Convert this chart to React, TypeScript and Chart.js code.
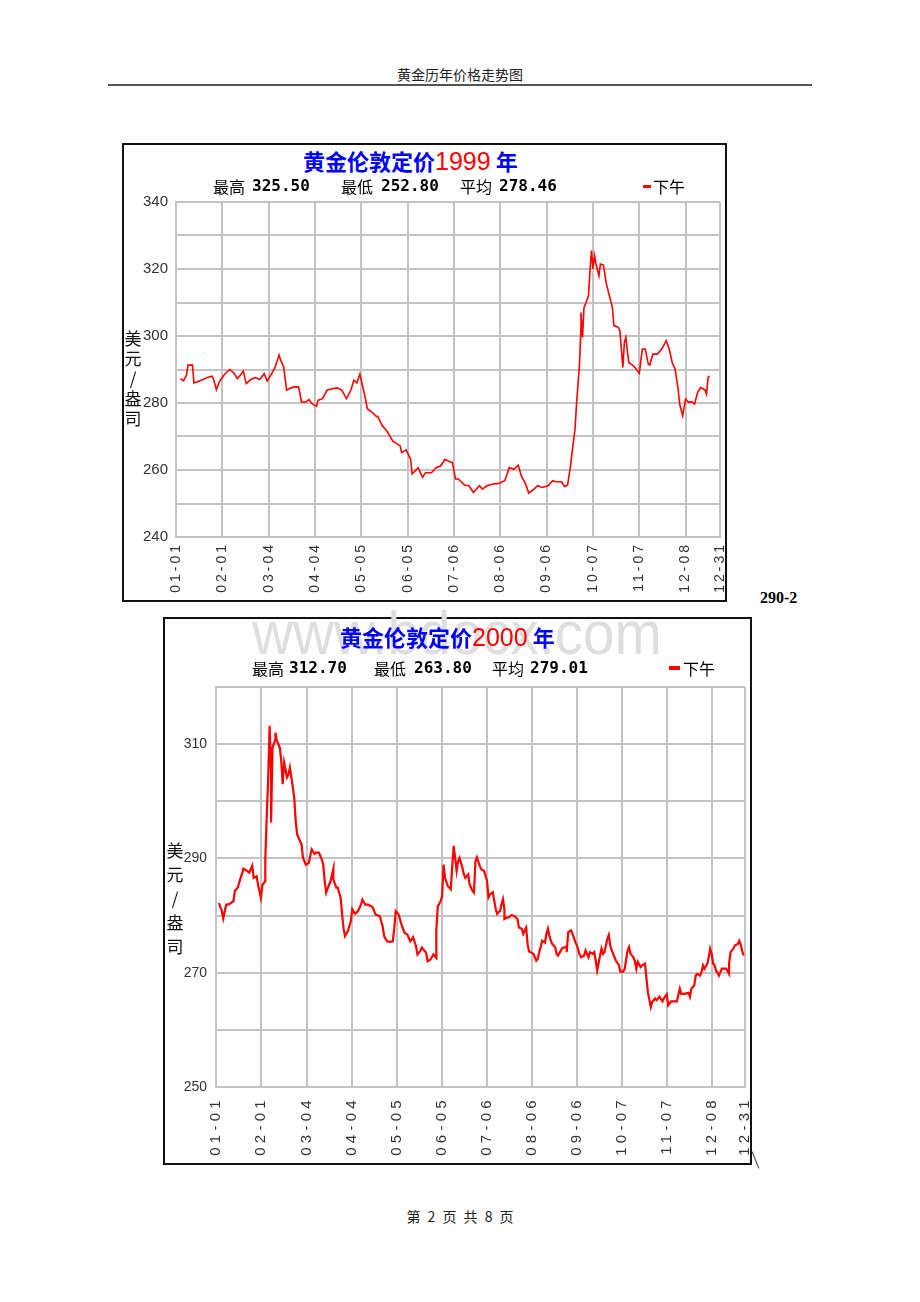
import React, { useEffect, useRef } from 'react';
import { Chart, registerables, LinearScale } from 'chart.js';

// ---------- data ----------
const TICK_LABELS = ['01-01', '02-01', '03-04', '04-04', '05-05', '06-05', '07-06', '08-06', '09-06', '10-07', '11-07', '12-08', '12-31'];
const TICK_DAYS_1999 = [0, 31, 62, 93, 124, 155, 186, 217, 248, 279, 310, 341, 364];
const TICK_DAYS_2000 = [0, 31, 63, 94, 125, 156, 187, 218, 249, 280, 311, 342, 365];

const STAT_LABELS = ['最高', '最低', '平均'];
const STATS_1999 = ['325.50', '252.80', '278.46'];
const STATS_2000 = ['312.70', '263.80', '279.01'];
const SERIES_NAME = '下午';
const Y_TITLE_CHARS = ['美', '元', '/', '盎', '司'];

const DAYS_1999 = [
  3, 5, 7, 8, 11, 12, 14, 18, 21, 24,
  25, 27, 29, 32, 33, 36, 39, 41, 43, 45,
  47, 50, 53, 56, 59, 61, 64, 66, 69, 70,
  72, 74, 76, 79, 82, 84, 87, 89, 91, 94,
  95, 98, 101, 105, 108, 111, 114, 117, 119, 121,
  123, 125, 127, 128, 131, 134, 135, 138, 141, 145,
  150, 151, 154, 157, 158, 162, 165, 167, 171, 174,
  177, 180, 183, 185, 187, 189, 193, 196, 199, 203,
  205, 208, 212, 216, 220, 223, 226, 229, 231, 234,
  236, 239, 242, 245, 249, 252, 254, 258, 260, 262,
  264, 265, 267, 268, 270, 271, 271, 272, 273, 274,
  276, 277, 278, 279, 280, 281, 283, 284, 286, 288,
  290, 292, 293, 296, 297, 299, 300, 301, 302, 303,
  306, 308, 310, 312, 314, 316, 317, 319, 322, 325,
  328, 330, 332, 334, 336, 337, 339, 341, 343, 345,
  347, 349, 351, 354, 355, 356, 357,
];
const GOLD_1999 = [
  287.3, 286.6, 288.3, 291.3, 291.3, 286.0, 286.3, 287.0, 287.6, 288.0,
  287.3, 284.0, 286.3, 288.3, 288.8, 290.0, 288.8, 287.3, 288.3, 289.5,
  285.8, 287.0, 287.6, 287.0, 288.8, 286.6, 288.8, 290.3, 294.3, 292.8,
  290.8, 283.8, 284.3, 284.8, 284.8, 280.3, 280.3, 281.0, 279.8, 279.0,
  280.8, 281.3, 283.8, 284.3, 284.5, 283.8, 281.3, 283.8, 286.8, 286.0,
  288.6, 284.8, 280.8, 278.3, 277.3, 276.0, 276.0, 273.2, 271.7, 268.7,
  267.2, 265.2, 266.0, 263.2, 258.8, 260.7, 257.8, 259.2, 259.2, 260.7,
  261.2, 263.2, 262.5, 262.2, 257.3, 257.3, 255.5, 255.3, 253.3, 255.3,
  254.3, 255.3, 255.8, 256.0, 256.8, 260.7, 260.2, 261.4, 258.3, 255.8,
  253.1, 254.1, 255.3, 254.8, 255.3, 256.8, 256.5, 256.5, 255.1, 255.5,
  261.2, 265.2, 272.2, 279.7, 291.6, 303.1, 307.0, 299.6, 308.5, 309.5,
  312.0, 319.5, 325.5, 320.0, 324.0, 321.5, 318.0, 321.5, 321.2, 315.5,
  312.0, 308.5, 303.1, 302.6, 301.6, 290.6, 298.0, 299.6, 295.6, 292.1,
  291.1, 290.1, 288.9, 296.1, 296.1, 291.6, 291.3, 294.6, 294.6, 296.1,
  298.6, 296.1, 292.1, 290.1, 284.1, 279.7, 276.2, 281.2, 280.2, 280.4,
  279.7, 283.1, 284.6, 283.9, 282.6, 287.6, 288.1,
];

const DAYS_2000 = [
  2, 4, 5, 7, 9, 12, 13, 15, 17, 19,
  21, 23, 25, 26, 28, 29, 31, 32, 34, 34,
  35, 36, 37, 38, 38, 39, 41, 41, 42, 44,
  45, 46, 47, 49, 50, 51, 52, 53, 54, 55,
  56, 58, 59, 60, 62, 64, 66, 68, 69, 71,
  73, 74, 75, 76, 78, 79, 81, 81, 83, 84,
  86, 87, 88, 89, 91, 93, 94, 96, 98, 100,
  101, 103, 105, 108, 110, 113, 115, 116, 118, 120,
  122, 123, 124, 126, 128, 130, 132, 134, 136, 138,
  139, 141, 142, 145, 146, 148, 150, 152, 152, 153,
  155, 156, 157, 158, 160, 161, 162, 163, 164, 165,
  166, 167, 168, 170, 171, 172, 174, 175, 177, 178,
  179, 180, 182, 183, 185, 186, 187, 188, 189, 191,
  192, 193, 194, 196, 197, 198, 199, 199, 201, 202,
  204, 206, 208, 209, 211, 212, 213, 214, 215, 216,
  217, 219, 220, 221, 222, 223, 224, 225, 227, 228,
  229, 230, 231, 232, 234, 235, 236, 238, 239, 242,
  242, 243, 245, 246, 248, 249, 251, 252, 254, 255,
  257, 258, 260, 261, 262, 263, 265, 266, 267, 268,
  270, 271, 272, 273, 274, 276, 278, 279, 281, 282,
  284, 285, 286, 288, 289, 290, 291, 293, 294, 296,
  297, 298, 300, 301, 303, 304, 306, 308, 309, 311,
  312, 314, 316, 318, 320, 321, 323, 326, 327, 328,
  330, 331, 332, 334, 335, 336, 337, 339, 340, 341,
  342, 343, 344, 345, 346, 347, 349, 350, 352, 354,
  354, 355, 357, 358, 360, 361, 362, 363, 364,
];
const GOLD_2000 = [
  282.2, 280.8, 279.5, 281.9, 282.0, 282.5, 284.3, 284.9, 286.6, 288.2,
  287.9, 287.5, 288.7, 286.6, 286.9, 285.4, 283.1, 285.4, 286.0, 289.8,
  297.4, 303.9, 313.2, 304.7, 296.3, 309.4, 310.9, 312.0, 310.6, 309.4,
  307.1, 303.0, 306.8, 304.2, 304.7, 305.9, 304.2, 302.4, 300.6, 296.5,
  294.2, 293.0, 292.5, 290.1, 288.9, 289.2, 291.6, 290.8, 291.0, 291.0,
  289.8, 288.9, 286.0, 284.0, 285.4, 286.0, 288.2, 286.3, 284.9, 284.9,
  283.1, 280.2, 277.8, 276.4, 277.3, 279.0, 281.1, 280.3, 280.8, 281.9,
  282.8, 281.9, 281.9, 281.5, 280.2, 279.9, 278.1, 276.4, 275.5, 275.4,
  275.5, 277.8, 280.8, 280.2, 278.4, 277.0, 276.7, 275.5, 276.2, 274.6,
  273.2, 273.8, 274.4, 273.5, 272.0, 272.3, 273.2, 272.6, 277.3, 281.6,
  282.5, 283.4, 288.9, 286.6, 285.1, 284.9, 284.6, 288.7, 292.2, 290.1,
  287.8, 289.5, 290.1, 288.4, 287.2, 286.6, 287.2, 285.4, 284.3, 284.0,
  289.5, 290.2, 288.7, 288.1, 287.8, 286.9, 286.1, 283.2, 283.7, 284.1,
  282.6, 281.1, 280.3, 280.8, 282.0, 282.9, 281.1, 279.4, 279.7, 279.7,
  280.1, 279.9, 279.4, 277.9, 277.7, 276.8, 277.4, 277.9, 275.0, 273.7,
  273.6, 273.3, 272.7, 272.1, 272.4, 273.6, 274.5, 275.6, 275.3, 276.8,
  277.7, 276.5, 275.6, 275.0, 274.5, 273.3, 273.0, 273.9, 274.3, 274.6,
  273.6, 277.1, 277.4, 276.8, 275.3, 274.8, 273.1, 272.7, 273.0, 273.9,
  272.7, 273.6, 273.3, 273.6, 272.1, 270.4, 273.0, 274.2, 273.3, 273.6,
  275.9, 276.6, 274.8, 273.9, 273.3, 272.1, 271.3, 270.2, 270.2, 270.7,
  273.9, 274.5, 273.3, 272.7, 272.1, 270.7, 271.9, 271.0, 271.3, 271.6,
  269.0, 266.6, 264.0, 264.9, 265.5, 265.2, 265.8, 265.0, 265.5, 266.2,
  264.3, 265.0, 265.0, 265.0, 267.2, 266.3, 266.3, 266.5, 265.8, 267.2,
  267.8, 269.5, 269.8, 269.5, 270.1, 271.3, 270.7, 271.6, 272.7, 274.2,
  273.3, 271.6, 271.3, 270.4, 270.0, 269.5, 270.7, 270.7, 270.7, 269.8,
  271.6, 273.6, 274.2, 274.8, 275.0, 275.6, 275.0, 273.9, 273.0,
];

// ---------- custom scale: linear axis whose labels get extra letter spacing ----------
class SpacedLinearScale extends LinearScale {
  static id = 'spacedLinear';
  static defaults = LinearScale.defaults;
  drawLabels(chartArea: any) {
    const ctx: any = (this as any).ctx;
    const sp = (this as any).options.labelSpacing || 0;
    ctx.save();
    if ('letterSpacing' in ctx) ctx.letterSpacing = sp + 'px';
    (LinearScale.prototype as any).drawLabels.call(this, chartArea);
    ctx.restore();
  }
}
Chart.register(...registerables, SpacedLinearScale);

const GRID = '#c3c3c3';
const TICK_COLOR = '#333333';

type ChartSpec = {
  days: number[];
  values: number[];
  tickDays: number[];
  xMax: number;
  yMin: number;
  yMax: number;
  width: number;
  height: number;
  padTop: number;
  padRight: number;
  yAxisWidth: number;
  xAxisHeight: number;
  xFont: number;
  xSpacing: number;
  xPad: number;
  yFont: number;
  yPad: number;
  lineWidth: number;
};

function makeConfig(s: ChartSpec): any {
  return {
    type: 'line',
    data: {
      datasets: [
        {
          label: SERIES_NAME,
          data: s.days.map((d, i) => ({ x: d, y: s.values[i] })),
          borderColor: '#ff0000',
          borderWidth: s.lineWidth,
          pointRadius: 0,
          tension: 0,
          fill: false,
        },
      ],
    },
    options: {
      animation: false,
      responsive: false,
      maintainAspectRatio: false,
      events: [],
      layout: { autoPadding: false, padding: { left: 0, top: s.padTop, right: s.padRight, bottom: 0 } },
      plugins: { legend: { display: false }, tooltip: { enabled: false }, title: { display: false } },
      scales: {
        x: {
          type: 'spacedLinear',
          min: 0,
          max: s.xMax,
          labelSpacing: s.xSpacing,
          afterBuildTicks: (scale: any) => {
            scale.ticks = s.tickDays.map((v) => ({ value: v }));
          },
          afterFit: (scale: any) => {
            scale.height = s.xAxisHeight;
            scale.paddingLeft = 0;
            scale.paddingRight = 0;
          },
          ticks: {
            autoSkip: false,
            minRotation: 90,
            maxRotation: 90,
            padding: s.xPad,
            color: TICK_COLOR,
            font: { family: '"Liberation Sans", Arial, sans-serif', size: s.xFont },
            callback: (v: number) => {
              const i = s.tickDays.indexOf(v);
              return i >= 0 ? TICK_LABELS[i] : '';
            },
          },
          grid: { color: GRID, lineWidth: 2, drawTicks: false },
          border: { color: GRID, width: 2 },
        },
        y: {
          min: s.yMin,
          max: s.yMax,
          afterFit: (scale: any) => {
            scale.width = s.yAxisWidth;
            scale.paddingTop = 0;
            scale.paddingBottom = 0;
          },
          ticks: {
            stepSize: 10,
            padding: s.yPad,
            color: TICK_COLOR,
            font: { family: '"Liberation Sans", Arial, sans-serif', size: s.yFont },
            callback: (v: number) => ((v - s.yMin) % 20 === 0 ? String(v) : ''),
          },
          grid: { color: GRID, lineWidth: 2, drawTicks: false },
          border: { color: GRID, width: 2 },
        },
      },
    },
  };
}

function GoldCanvas({ spec, left, top }: { spec: ChartSpec; left: number; top: number }) {
  const ref = useRef<HTMLCanvasElement>(null);
  useEffect(() => {
    if (!ref.current) return;
    const chart = new Chart(ref.current, makeConfig(spec));
    return () => chart.destroy();
  }, []);
  return (
    <canvas
      ref={ref}
      width={spec.width}
      height={spec.height}
      style={{ position: 'absolute', left, top, width: spec.width, height: spec.height, zIndex: 2 }}
    />
  );
}

const CJK = '"Noto Sans CJK SC", "Noto Sans CJK TC", sans-serif';
const abs = (left: number, top: number, extra: React.CSSProperties = {}): React.CSSProperties => ({
  position: 'absolute',
  left,
  top,
  whiteSpace: 'nowrap',
  zIndex: 3,
  ...extra,
});

type PanelProps = {
  box: [number, number, number, number];
  canvasPos: [number, number];
  spec: ChartSpec;
  year: string;
  titlePos: [number, number];
  stats: string[];
  statLabelX: number[];
  statValueX: number[];
  statsTop: number;
  legendDash: [number, number, number, number];
  legendTextX: number;
  yTitlePos: [number, number];
  yTitleStep: number;
};

function Panel(p: PanelProps) {
  const [bl, bt, bw, bh] = p.box;
  return (
    <>
      <div
        style={{
          position: 'absolute',
          left: bl,
          top: bt,
          width: bw,
          height: bh,
          boxSizing: 'border-box',
          border: '2px solid #111',
          background: '#ffffff',
          zIndex: 1,
        }}
      />
      <GoldCanvas spec={p.spec} left={p.canvasPos[0]} top={p.canvasPos[1]} />
      <div style={abs(p.titlePos[0], p.titlePos[1], { lineHeight: '28px', height: 28 })}>
        <span style={{ color: '#0000ff', font: `bold 22px ${CJK}` }}>黄金伦敦定价</span>
        <span style={{ color: '#ff0000', font: '25px "Liberation Sans", Arial, sans-serif' }}>{p.year}</span>
        <span style={{ color: '#0000ff', font: `bold 22px ${CJK}` }}>{' 年'}</span>
      </div>
      {STAT_LABELS.map((lab, i) => (
        <React.Fragment key={lab}>
          <div style={abs(p.statLabelX[i], p.statsTop, { font: `16px ${CJK}`, lineHeight: '20px', color: '#000' })}>{lab}</div>
          <div
            style={abs(p.statValueX[i], p.statsTop, {
              font: 'bold 16px "DejaVu Sans Mono", monospace',
              lineHeight: '20px',
              color: '#000',
            })}
          >
            {p.stats[i]}
          </div>
        </React.Fragment>
      ))}
      <div
        style={abs(p.legendDash[0], p.legendDash[1], {
          width: p.legendDash[2],
          height: p.legendDash[3],
          background: '#ff0000',
        })}
      />
      <div style={abs(p.legendTextX, p.statsTop, { font: `16px ${CJK}`, lineHeight: '20px', color: '#000' })}>{SERIES_NAME}</div>
      <div
        style={abs(p.yTitlePos[0], p.yTitlePos[1], {
          display: 'flex',
          flexDirection: 'column',
          alignItems: 'center',
          width: 16,
        })}
      >
        {Y_TITLE_CHARS.map((c, i) => (
          <span key={i} style={{ font: `17px ${CJK}`, height: p.yTitleStep, lineHeight: p.yTitleStep + 'px', color: '#111' }}>
            {c}
          </span>
        ))}
      </div>
    </>
  );
}

const SPEC_1999: ChartSpec = {
  days: DAYS_1999,
  values: GOLD_1999,
  tickDays: TICK_DAYS_1999,
  xMax: 364,
  yMin: 240,
  yMax: 340,
  width: 601,
  height: 410,
  padTop: 12,
  padRight: 5,
  yAxisWidth: 52,
  xAxisHeight: 63,
  xFont: 14,
  xSpacing: 3,
  xPad: 5,
  yFont: 15,
  yPad: 8,
  lineWidth: 1.6,
};

const SPEC_2000: ChartSpec = {
  days: DAYS_2000,
  values: GOLD_2000,
  tickDays: TICK_DAYS_2000,
  xMax: 365,
  yMin: 250,
  yMax: 320,
  width: 585,
  height: 483,
  padTop: 7,
  padRight: 5,
  yAxisWidth: 51,
  xAxisHeight: 76,
  xFont: 15,
  xSpacing: 4.3,
  xPad: 9,
  yFont: 14,
  yPad: 9,
  lineWidth: 2.2,
};

export default function App() {
  return (
    <div
      style={{
        position: 'absolute',
        left: 0,
        top: 0,
        width: 920,
        height: 1302,
        background: '#ffffff',
        overflow: 'hidden',
      }}
    >
      {/* page header */}
      <div style={abs(0, 65, { width: 920, textAlign: 'center', font: `14px ${CJK}`, lineHeight: '18px', color: '#222' })}>
        黄金历年价格走势图
      </div>
      <div style={{ position: 'absolute', left: 108, top: 84, width: 704, height: 2, background: '#555' }} />

      <Panel
        box={[122, 143, 605, 459]}
        canvasPos={[124, 190]}
        spec={SPEC_1999}
        year="1999"
        titlePos={[303, 144]}
        stats={STATS_1999}
        statLabelX={[213, 341, 460]}
        statValueX={[252, 381, 499]}
        statsTop={176}
        legendDash={[643, 185, 8, 3]}
        legendTextX={653}
        yTitlePos={[125, 328]}
        yTitleStep={20}
      />

      <div style={abs(760, 589, { font: 'bold 16px "Liberation Serif", serif', lineHeight: '18px', color: '#000' })}>290-2</div>

      <Panel
        box={[163, 617, 589, 548]}
        canvasPos={[165, 680]}
        spec={SPEC_2000}
        year="2000"
        titlePos={[340, 620]}
        stats={STATS_2000}
        statLabelX={[252, 374, 492]}
        statValueX={[289, 414, 530]}
        statsTop={658}
        legendDash={[669, 666, 11, 4]}
        legendTextX={683}
        yTitlePos={[167, 838]}
        yTitleStep={24}
      />

      {/* watermark (below chart 2 title text, above box background) */}
      <div
        style={{
          position: 'absolute',
          left: 252,
          top: 602,
          font: '62px "Liberation Sans", Arial, sans-serif',
          lineHeight: '62px',
          color: '#dedede',
          whiteSpace: 'nowrap',
          transform: 'scaleX(0.915)',
          transformOrigin: 'left top',
          zIndex: 2,
        }}
      >
        www.bdocx.com
      </div>

      <div
        style={{
          position: 'absolute',
          left: 755,
          top: 1151,
          width: 1,
          height: 18,
          background: '#333',
          transform: 'rotate(-22deg)',
        }}
      />

      {/* footer */}
      <div style={abs(0, 1207, { width: 920, textAlign: 'center', font: `14px ${CJK}`, lineHeight: '18px', color: '#222', wordSpacing: 4 })}>
        第 2 页 共 8 页
      </div>
    </div>
  );
}
